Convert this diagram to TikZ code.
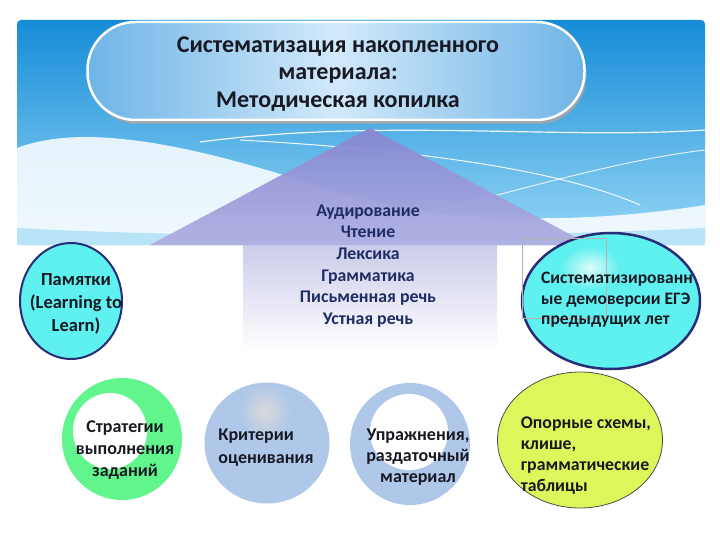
\documentclass[tikz,border=0pt]{standalone}
\usepackage{fontspec}
\setmainfont{Carlito}
\usetikzlibrary{shapes.geometric,shadows}
\definecolor{bandtop}{RGB}{22,140,215}
\definecolor{bandbot}{RGB}{150,215,245}
\definecolor{boxtop}{RGB}{110,180,230}
\definecolor{boxmid}{RGB}{210,233,250}
\definecolor{arrowtop}{RGB}{135,135,210}
\definecolor{arrowtxt}{RGB}{30,45,100}
\definecolor{cyanfill}{RGB}{95,240,240}
\definecolor{navy}{RGB}{40,45,120}
\definecolor{ringgreen}{RGB}{98,245,142}
\definecolor{paleblue}{RGB}{175,200,234}
\definecolor{lime}{RGB}{222,245,92}
\definecolor{txt}{RGB}{25,25,35}
\tikzset{
  bandtext/.style={font=\bfseries\fontsize{24}{27.5}\selectfont, text=txt, align=center},
  arrowtext/.style={font=\bfseries\fontsize{17.8}{21.6}\selectfont, text=arrowtxt, align=center},
  elltext/.style={font=\bfseries\fontsize{18}{22}\selectfont, text=txt},
  smalltext/.style={font=\bfseries\fontsize{17.5}{20.5}\selectfont, text=txt, align=left},
}
\begin{document}
\begin{tikzpicture}[x=1pt,y=-1pt]
\useasboundingbox (0,0) rectangle (720,540);
\fill[white] (0,0) rectangle (720,540);
% blue band
\shade[top color=bandtop, bottom color=bandbot, rounded corners=4pt] (17,20) rectangle (705,245);
% waves
\fill[white, opacity=0.85] (17,148) .. controls (90,120) and (210,150) .. (330,190)
   .. controls (450,228) and (600,222) .. (705,205) -- (705,245) -- (17,245) -- cycle;
\fill[bandbot, opacity=0.6] (17,228) .. controls (200,238) and (500,238) .. (705,228) -- (705,245) -- (17,245) -- cycle;
\draw[white, line width=1.2pt, opacity=0.9] (200,142) .. controls (380,118) and (560,140) .. (705,130);
\draw[white, line width=1pt, opacity=0.9] (240,140) .. controls (420,150) and (560,170) .. (640,205);
\draw[white, line width=1pt, opacity=0.8] (420,215) .. controls (520,190) and (620,160) .. (705,150);
% title box
\node[draw=white, line width=2.5pt, rounded corners=48pt, minimum width=497pt, minimum height=98pt,
  left color=boxtop, right color=boxtop, middle color=boxmid,
  drop shadow={shadow xshift=2pt, shadow yshift=-4pt, fill=gray!70, opacity=0.8}]
  (title) at (336,71) {};
\node[bandtext] (titletext) at (338,74) {Систематизация накопленного\\материала:\\Методическая копилка};
% arrow
\shade[top color=arrowtop, bottom color=white, opacity=0.9]
  (370,128) -- (590,245) -- (497,245) -- (497,350) -- (243,350) -- (243,245) -- (150,245) -- cycle;
\fill[arrowtop, opacity=0.35] (370,128) -- (590,245) -- (150,245) -- cycle;
\node[arrowtext] (skills) at (368,266) {Аудирование\\Чтение\\Лексика\\Грамматика\\Письменная речь\\Устная речь};
% left ellipse
\node[ellipse, draw=navy, line width=2pt, fill=cyanfill, minimum width=102pt, minimum height=116pt] (pam) at (71,301) {};
\node[elltext, align=center, font=\bfseries\fontsize{18.5}{23}\selectfont] (pamtext) at (76,304) {Памятки\\(Learning to\\Learn)};
% right ellipse
\node[ellipse, draw=navy, line width=2.5pt, fill=cyanfill, minimum width=178pt, minimum height=136pt] (ege) at (611,301) {};
\shade[inner color=white, outer color=cyanfill, opacity=0.8] (590,268) ellipse (30pt and 22pt);
\draw[gray!60, line width=0.6pt] (522,238) rectangle (606,318);
\node[smalltext, anchor=west, inner sep=0pt] (egetext) at (541,300) {Систематизированн\\ые демоверсии ЕГЭ\\предыдущих лет};
% green ring
\node[ellipse, fill=ringgreen, minimum width=120pt, minimum height=122pt] (strat) at (122,439) {};
\fill[white] (110,431) ellipse (37pt and 38pt);
\node[elltext, align=center] (strattext) at (125,450) {Стратегии\\выполнения\\заданий};
% blue ellipse
\node[ellipse, fill=paleblue, minimum width=125pt, minimum height=121pt] (crit) at (267,443) {};
\shade[inner color=gray!30, outer color=paleblue] (265,412) ellipse (26pt and 28pt);
\node[elltext, align=left, font=\bfseries\fontsize{18}{23}\selectfont] (crittext) at (266,448) {Критерии\\оценивания};
% blue ring
\node[ellipse, fill=paleblue, minimum width=120pt, minimum height=122pt] (upr) at (410,444) {};
\fill[white] (409,432) ellipse (39pt and 38pt);
\node[elltext, align=center, font=\bfseries\fontsize{18}{21}\selectfont] (uprtext) at (418,457) {Упражнения,\\раздаточный\\материал};
% lime circle
\node[ellipse, draw=black!70, line width=0.8pt, fill=lime, minimum width=165pt, minimum height=136pt] (opor) at (580,440) {};
\node[elltext, align=left, font=\bfseries\fontsize{17.8}{21}\selectfont] (opotext) at (586,456) {Опорные схемы,\\клише,\\грамматические\\таблицы};
\end{tikzpicture}
\end{document}
